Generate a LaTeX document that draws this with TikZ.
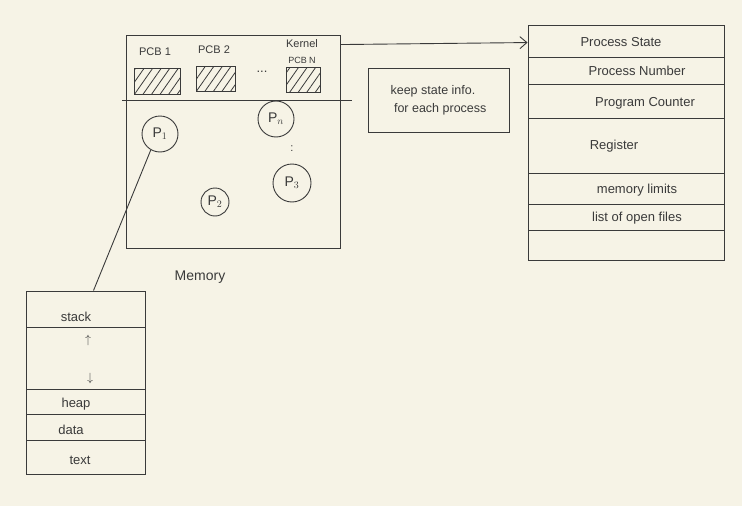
\documentclass[tikz,border=0pt]{standalone}
\usepackage{fontspec}
\setmainfont{Liberation Sans}
\usetikzlibrary{arrows.meta,patterns.meta}
\definecolor{paper}{HTML}{F6F3E6}
\definecolor{ink}{HTML}{3A3A3A}
\tikzset{
  box/.style={draw=ink, line width=0.9pt, inner sep=0pt},
  sep/.style={draw=ink, line width=0.9pt},
  lbl/.style={text=ink, inner sep=1pt, font=\fontsize{13}{15}\selectfont},
  small/.style={text=ink, inner sep=1pt, font=\fontsize{11}{13}\selectfont},
  proc/.style={draw=ink, line width=0.9pt, circle, text=ink, inner sep=0pt, font=\fontsize{14}{16}\selectfont},
  hatch/.style={draw=ink, line width=0.9pt, pattern={Lines[angle=55,distance=7pt,line width=0.8pt]}, pattern color=ink, inner sep=0pt},
}
\begin{document}
\begin{tikzpicture}[x=1pt,y=-1pt]
\fill[paper] (0,0) rectangle (742,506);
\useasboundingbox (0,0) rectangle (742,506);

% Memory box
\node[box, minimum width=214pt, minimum height=213pt] (mem) at (233,141.5) {};
\draw[sep] (122,100) -- (352,100);
\node[small] (l1) at (155,52) {PCB 1};
\node[small] (l2) at (214,50) {PCB 2};
\node[small] (lk) at (302,44) {Kernel};
\node[small, font=\fontsize{9}{10}\selectfont] (ln) at (302,60) {PCB N};
\node[lbl] (dots) at (262,72) {...};
\node[hatch, minimum width=46pt, minimum height=26pt] (pcb1) at (157,81) {};
\node[hatch, minimum width=39pt, minimum height=25pt] (pcb2) at (215.5,78.5) {};
\node[hatch, minimum width=34pt, minimum height=25pt] (pcbn) at (303,79.5) {};

\node[proc, minimum size=36pt] (p1) at (160,134) {P$_1$};
\node[proc, minimum size=36pt] (pn) at (276,119) {P$_n$};
\node[proc, minimum size=38pt] (p3) at (292,183) {P$_3$};
\node[proc, minimum size=28pt] (p2) at (215,202) {P$_2$};
\node[text=ink, inner sep=0pt, font=\fontsize{11}{11}\selectfont] (vd) at (292,149) {:};
\node[lbl, font=\fontsize{14}{16}\selectfont] (memlbl) at (200,277) {Memory};

% note
\node[box, minimum width=141pt, minimum height=64pt, align=left, text=ink, font=\fontsize{12.5}{18}\selectfont] (note) at (438.5,100) {keep state info.\\ \ for each process};

% PCB table
\node[box, minimum width=196pt, minimum height=235pt] (tab) at (626,142.5) {};
\draw[sep] (528,57) -- (724,57);
\draw[sep] (528,84) -- (724,84);
\draw[sep] (528,118) -- (724,118);
\draw[sep] (528,173) -- (724,173);
\draw[sep] (528,204) -- (724,204);
\draw[sep] (528,230) -- (724,230);
\node[lbl] (t1) at (621,42) {Process State};
\node[lbl] (t2) at (637,71) {Process Number};
\node[lbl] (t3) at (645,103) {Program Counter};
\node[lbl] (t4) at (614,146) {Register};
\node[lbl] (t5) at (637,190) {memory limits};
\node[lbl] (t6) at (637,218) {list of open files};

% process memory layout
\node[box, minimum width=119pt, minimum height=183pt] (stk) at (85.5,382.5) {};
\draw[sep] (26,327) -- (145,327);
\draw[sep] (26,389) -- (145,389);
\draw[sep] (26,414) -- (145,414);
\draw[sep] (26,440) -- (145,440);
\node[lbl] (s1) at (76,317) {stack};
\node[lbl] (up) at (88,340) {$\uparrow$};
\node[lbl] (dn) at (90,378) {$\downarrow$};
\node[lbl] (s2) at (76,404) {heap};
\node[lbl] (s3) at (71,430) {data};
\node[lbl] (s4) at (80,460) {text};

% connectors
\draw[sep] (p1.240) -- ([xshift=8pt]stk.north);
\draw[sep, -{Straight Barb[length=7pt,width=12pt]}] ([yshift=-10pt]mem.north east) -- ([yshift=-18pt]tab.north west);
\end{tikzpicture}
\end{document}
